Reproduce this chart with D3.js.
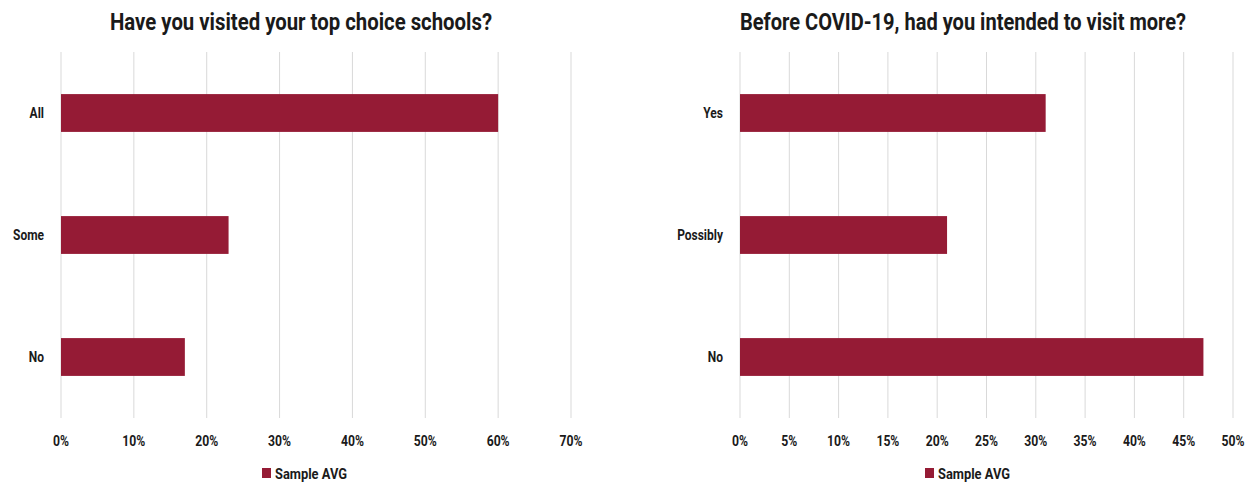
<!DOCTYPE html>
<html>
<head>
<meta charset="utf-8">
<script src="https://cdn.jsdelivr.net/npm/d3@7"></script>
<style>
  html, body { margin: 0; padding: 0; background: #fff; }
  svg { display: block; }
  text { font-family: Roboto, "Noto Sans", sans-serif; font-weight: 700; fill: #1a1a1a; }
</style>
</head>
<body>
<svg id="chart" width="1255" height="482"></svg>
<script>
// ---- Data ----
const leftTitle = "Have you visited your top choice schools?";
const leftCategories = ["All", "Some", "No"];
const leftValues = [60, 23, 17];
const leftTicks = [0, 10, 20, 30, 40, 50, 60, 70];

const rightTitle = "Before COVID-19, had you intended to visit more?";
const rightCategories = ["Yes", "Possibly", "No"];
const rightValues = [31, 21, 47];
const rightTicks = [0, 5, 10, 15, 20, 25, 30, 35, 40, 45, 50];

const seriesName = "Sample AVG";
const barColor = "#951b35";

const svg = d3.select("#chart");

function panel(cfg) {
  const g = svg.append("g");
  const x = d3.scaleLinear().domain([0, cfg.ticks[cfg.ticks.length - 1]]).range([cfg.x0, cfg.x1]);
  const y = d3.scaleBand().domain(cfg.categories).range([52, 418]).paddingInner(0.69).paddingOuter(0.345);

  // gridlines
  g.append("g").selectAll("line").data(cfg.ticks).join("line")
    .attr("x1", d => x(d)).attr("x2", d => x(d))
    .attr("y1", 52).attr("y2", 418)
    .attr("stroke", "#d9d9d9").attr("stroke-width", 1);

  // bars
  g.append("g").selectAll("rect").data(cfg.categories).join("rect")
    .attr("x", x(0))
    .attr("y", d => y(d))
    .attr("width", (d, i) => x(cfg.values[i]) - x(0))
    .attr("height", y.bandwidth())
    .attr("fill", barColor);

  // category labels
  g.append("g").selectAll("text").data(cfg.categories).join("text")
    .attr("class", "cat")
    .attr("x", x(0) - 17)
    .attr("y", d => y(d) + y.bandwidth() / 2)
    .attr("dy", "0.36em")
    .attr("text-anchor", "end")
    .attr("font-size", 15)
    .text(d => d);

  // tick labels
  g.append("g").selectAll("text").data(cfg.ticks).join("text")
    .attr("class", "tick")
    .attr("x", d => x(d))
    .attr("y", 446)
    .attr("text-anchor", "middle")
    .attr("font-size", 15)
    .text(d => d + "%");

  // title
  g.append("text")
    .attr("class", "title")
    .attr("x", cfg.titleX)
    .attr("y", 29.5)
    .attr("text-anchor", "middle")
    .attr("font-size", 24)
    .attr("data-w", cfg.titleW)
    .text(cfg.title);

  // legend
  const lg = g.append("g").attr("transform", `translate(${cfg.legendX},0)`);
  lg.append("rect").attr("x", 0).attr("y", 468).attr("width", 9).attr("height", 10).attr("fill", barColor);
  lg.append("text").attr("class", "legend").attr("x", 13).attr("y", 478.5).attr("font-size", 15).text(seriesName);
}

panel({ categories: leftCategories, values: leftValues, ticks: leftTicks, x0: 61, x1: 571, title: leftTitle, titleX: 301, titleW: 382, legendX: 262 });
panel({ categories: rightCategories, values: rightValues, ticks: rightTicks, x0: 740, x1: 1233, title: rightTitle, titleX: 963, titleW: 446, legendX: 925 });

// condense text to match the narrow bold face of the reference
function condense(cls, refText, targetWidth) {
  const nodes = svg.selectAll("text." + cls).nodes();
  const ref = nodes.find(n => n.textContent === refText);
  const k = targetWidth / ref.getComputedTextLength();
  nodes.forEach(n => {
    const w = n.getComputedTextLength();
    n.setAttribute("textLength", w * k);
    n.setAttribute("lengthAdjust", "spacingAndGlyphs");
  });
}
svg.selectAll("text.title").each(function () {
  this.setAttribute("textLength", this.getAttribute("data-w"));
  this.setAttribute("lengthAdjust", "spacingAndGlyphs");
});
condense("legend", seriesName, 72);
condense("tick", "10%", 23);
condense("cat", "Some", 31);
</script>
</body>
</html>
